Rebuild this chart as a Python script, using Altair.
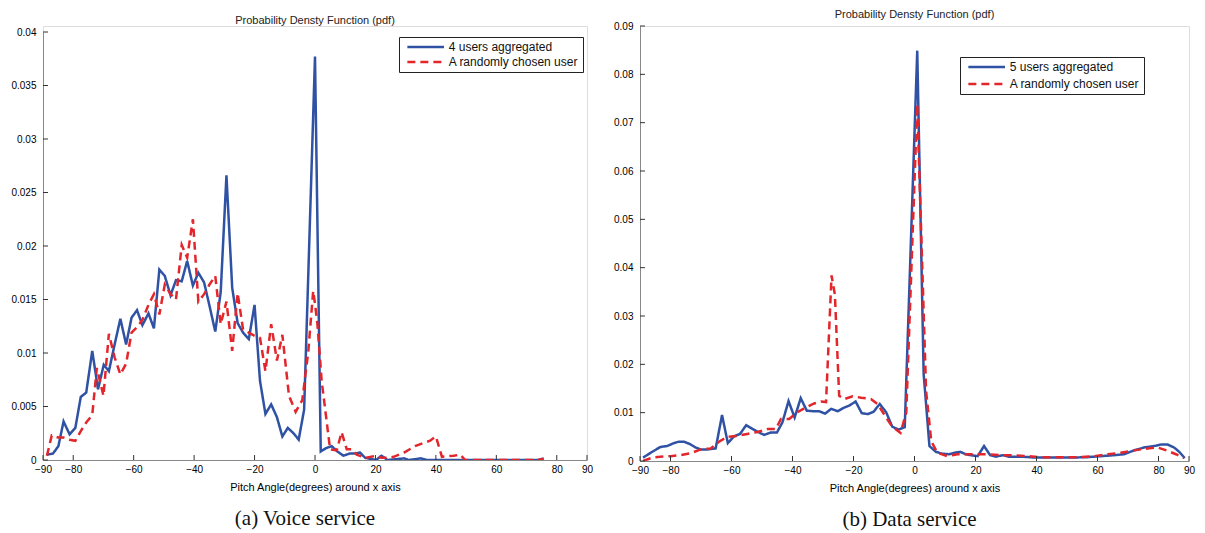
import altair as alt
import pandas as pd

BLUE = "#2f52a4"
RED = "#e3262b"
FONT = "Liberation Sans"

# ---------------- (a) Voice service ----------------
voice_blue_x = [-88.7, -86.7, -84.9, -83.2, -81.2, -79.3, -77.5, -75.7, -73.7, -71.8,
                -69.9, -68.2, -66.3, -64.4, -62.5, -60.7, -58.9, -57.1, -55.1, -53.3,
                -51.5, -49.7, -47.8, -46.0, -44.1, -42.3, -40.4, -38.6, -36.7, -34.9,
                -33.0, -31.2, -29.3, -27.4, -25.6, -23.8, -21.9, -20.0, -18.2, -16.4,
                -14.5, -12.6, -10.8, -9.0, -7.1, -5.4, -3.6, 0.0, 1.9, 3.6,
                5.5, 7.4, 9.4, 11.4, 13.3, 14.9, 16.6, 18.5, 20.2, 22.0,
                24.0, 29.5, 31.0, 35.0, 37.0, 73.8, 75.7]
voice_blue_y = [0.0005, 0.0006, 0.0013, 0.0036, 0.0024, 0.0030, 0.0059, 0.0063, 0.0102, 0.0066,
                0.0089, 0.0083, 0.0108, 0.0132, 0.0108, 0.0133, 0.0140, 0.0126, 0.0137, 0.0123,
                0.0178, 0.0172, 0.0154, 0.0168, 0.0167, 0.0186, 0.0163, 0.0175, 0.0166, 0.0144,
                0.0120, 0.0157, 0.0266, 0.0161, 0.0128, 0.0119, 0.0113, 0.0145, 0.0074, 0.0043,
                0.0052, 0.0040, 0.0022, 0.0030, 0.0025, 0.0019, 0.0047, 0.0377, 0.0008, 0.0011,
                0.0013, 0.0008, 0.0004, 0.0006, 0.0006, 0.0007, 0.0002, 0.0001, 0.0000, 0.0004,
                0.0000, 0.00015, 0.0000, 0.00015, 0.0000, 0.0000, 0.00015]

voice_red_x = [-88.7, -87.1, -85.0, -83.2, -81.2, -79.3, -77.5, -75.7, -73.7, -72.2,
               -70.0, -68.2, -66.3, -64.4, -62.5, -60.7, -58.9, -57.1, -55.1, -53.3,
               -51.5, -49.7, -47.8, -46.0, -44.1, -42.3, -40.4, -38.6, -36.7, -34.9,
               -33.0, -31.2, -29.3, -27.4, -25.6, -23.8, -21.9, -20.0, -18.2, -16.4,
               -14.5, -12.6, -10.8, -8.6, -6.4, -4.2, -2.2, -0.6, 0.0, 0.8,
               2.2, 5.0, 7.2, 8.8, 10.5, 12.2, 13.8, 16.6, 20.2, 22.0,
               24.0, 26.0, 29.5, 33.1, 36.0, 38.1, 40.0, 42.0, 45.9, 48.0,
               49.7, 73.5, 75.5]
voice_red_y = [0.0004, 0.0023, 0.0021, 0.0021, 0.0019, 0.0018, 0.0027, 0.0035, 0.0042, 0.0086,
               0.0060, 0.0118, 0.0096, 0.0080, 0.0090, 0.0119, 0.0124, 0.0131, 0.0145, 0.0155,
               0.0136, 0.0164, 0.0155, 0.0150, 0.0201, 0.0189, 0.0225, 0.0148, 0.0155, 0.0164,
               0.0172, 0.0127, 0.0148, 0.0102, 0.0156, 0.0122, 0.0119, 0.0116, 0.0114, 0.0083,
               0.0127, 0.0093, 0.0117, 0.0060, 0.0045, 0.0056, 0.0102, 0.0158, 0.0146, 0.0127,
               0.0074, 0.0010, 0.0009, 0.0026, 0.0010, 0.0010, 0.0005, 0.0002, 0.0004, 0.0002,
               0.0002, 0.0003, 0.0007, 0.0013, 0.0016, 0.0018, 0.0022, 0.0003, 0.0004, 0.0005,
               0.0000, 0.0000, 0.0001]

# ---------------- (b) Data service ----------------
data_blue_x = [-89.0, -86.0, -83.3, -81.1, -78.9, -77.3, -75.6, -73.6, -71.8, -70.1,
               -67.9, -65.2, -63.1, -61.2, -59.2, -57.2, -55.2, -53.3, -51.3, -49.3,
               -47.1, -45.1, -43.3, -41.3, -39.3, -37.3, -35.3, -33.3, -31.3, -29.3,
               -27.3, -25.2, -23.2, -21.3, -19.3, -17.3, -15.3, -13.4, -11.4, -9.3,
               -7.3, -5.2, -3.2, 0.9, 3.0, 4.9, 7.0, 9.2, 11.4, 13.0,
               15.0, 16.8, 18.5, 20.7, 22.8, 24.8, 26.7, 28.9, 31.0, 34.9,
               39.8, 45.8, 51.3, 56.7, 61.1, 65.5, 68.7, 72.0, 75.3, 78.6,
               80.8, 83.0, 85.1, 86.8, 88.6]
data_blue_y = [0.0007, 0.0019, 0.0029, 0.0031, 0.0037, 0.0040, 0.0040, 0.0035, 0.0028, 0.0024,
               0.0024, 0.0026, 0.0095, 0.0037, 0.0051, 0.0056, 0.0074, 0.0067, 0.0060, 0.0054,
               0.0059, 0.0059, 0.0080, 0.0124, 0.0090, 0.0130, 0.0104, 0.0103, 0.0103, 0.0098,
               0.0108, 0.0103, 0.0110, 0.0115, 0.0123, 0.0099, 0.0097, 0.0102, 0.0118, 0.0101,
               0.0071, 0.0065, 0.0070, 0.0849, 0.0180, 0.0031, 0.0019, 0.0015, 0.0014, 0.0017,
               0.0019, 0.0014, 0.0012, 0.0010, 0.0031, 0.0012, 0.0009, 0.0012, 0.0009, 0.0009,
               0.0007, 0.0007, 0.0007, 0.0008, 0.0010, 0.0012, 0.0014, 0.0022, 0.0028, 0.0031,
               0.0034, 0.0034, 0.0028, 0.0019, 0.0006]

data_red_x = [-89.0, -86.0, -83.3, -80.0, -76.7, -73.4, -70.1, -66.8, -64.1, -61.4,
              -58.1, -54.8, -51.5, -48.2, -45.5, -43.8, -41.1, -38.4, -35.6, -32.9,
              -30.7, -29.0, -27.2, -26.1, -24.7, -23.0, -20.3, -17.5, -14.2, -12.1,
              -9.3, -7.4, -4.6, -2.7, 0.9, 3.8, 5.5, 7.5, 10.8, 14.1,
              17.4, 20.7, 23.9, 28.3, 32.7, 37.0, 41.4, 45.8, 50.2, 54.5,
              58.9, 63.3, 67.6, 72.0, 76.4, 79.7, 83.0, 85.7, 88.4]
data_red_y = [0.0000, 0.0007, 0.0009, 0.0010, 0.0012, 0.0016, 0.0024, 0.0026, 0.0040, 0.0050,
              0.0052, 0.0056, 0.0060, 0.0066, 0.0066, 0.0087, 0.0087, 0.0101, 0.0111, 0.0119,
              0.0123, 0.0122, 0.0384, 0.0344, 0.0135, 0.0128, 0.0134, 0.0131, 0.0128, 0.0118,
              0.0090, 0.0072, 0.0058, 0.0100, 0.0738, 0.0145, 0.0041, 0.0017, 0.0010, 0.0014,
              0.0014, 0.0014, 0.0014, 0.0012, 0.0012, 0.0010, 0.0008, 0.0008, 0.0008, 0.0008,
              0.0010, 0.0014, 0.0017, 0.0022, 0.0026, 0.0028, 0.0021, 0.0014, 0.0006]

x_ticks = [-90, -80, -60, -40, -20, 0, 20, 40, 60, 80, 90]
voice_y_ticks = [0, 0.005, 0.01, 0.015, 0.02, 0.025, 0.03, 0.035, 0.04]
data_y_ticks = [0, 0.01, 0.02, 0.03, 0.04, 0.05, 0.06, 0.07, 0.08, 0.09]

RED_LABEL = "A randomly chosen user"
TITLE = "Probability Densty Function (pdf)"
X_TITLE = "Pitch Angle(degrees) around x axis"


def panel(bx, by, rx, ry, blue_label, ymax, yticks, W, H, top, legx, legy,
          row_pad, t_offset, caption, cap_dx):
    df = pd.DataFrame({
        "x": bx + rx,
        "y": by + ry,
        "series": [blue_label] * len(bx) + [RED_LABEL] * len(rx),
    })
    xscale = alt.Scale(domain=[-90, 90], nice=False, zero=False)
    yscale = alt.Scale(domain=[0, ymax], nice=False, zero=False, range=[H, top])
    xaxis = alt.Axis(values=x_ticks, format="d", title=X_TITLE, ticks=False,
                     labelPadding=4, titlePadding=7, grid=False,
                     labelOverlap=False, labelFlush=False,
                     titleFontWeight=400)
    yaxis = alt.Axis(values=yticks, format="~g", title=None, ticks=False,
                     labelPadding=7, grid=False, labelOverlap=False)
    legend = alt.Legend(
        title=None, orient="none", legendX=legx, legendY=legy,
        strokeColor="#222", fillColor="white", padding=4,
        symbolType="M-4.9,0H4.9", symbolSize=56, symbolStrokeWidth=2.5,
        symbolOffset=16.7, labelOffset=17,
        labelFont=FONT, labelFontSize=12, labelColor="#111",
        rowPadding=row_pad,
    )
    lines = alt.Chart(df).mark_line(strokeWidth=2.5, clip=True).encode(
        x=alt.X("x:Q", scale=xscale, axis=xaxis),
        y=alt.Y("y:Q", scale=yscale, axis=yaxis),
        color=alt.Color("series:N", scale=alt.Scale(
            domain=[blue_label, RED_LABEL], range=[BLUE, RED]), legend=legend),
        strokeDash=alt.StrokeDash("series:N", scale=alt.Scale(
            domain=[blue_label, RED_LABEL], range=[[1, 0], [8, 5]]), legend=legend),
    )
    xt = alt.Chart(pd.DataFrame({"x": x_ticks})).mark_rule(
        color="#333", strokeWidth=1).encode(
        x=alt.X("x:Q", scale=xscale, axis=xaxis),
        y=alt.value(H), y2=alt.value(H - 5))
    yt = alt.Chart(pd.DataFrame({"y": yticks})).mark_rule(
        color="#333", strokeWidth=1).encode(
        y=alt.Y("y:Q", scale=yscale, axis=yaxis),
        x=alt.value(0), x2=alt.value(5))
    cap = alt.Chart(pd.DataFrame({"caption": [caption]})).mark_text(
        font="Liberation Serif", fontSize=21, color="#111", baseline="middle").encode(
        x=alt.value(W / 2 + cap_dx), y=alt.value(H + 59), text="caption:N")
    return alt.layer(lines, xt, yt, cap).properties(
        width=W, height=H,
        title=alt.TitleParams(TITLE, font=FONT, fontSize=11, fontWeight="normal",
                              color="#222", offset=t_offset, anchor="middle"),
    )


left = panel(voice_blue_x, voice_blue_y, voice_red_x, voice_red_y,
             "4 users aggregated", 0.04, voice_y_ticks, 544, 434, 6, 356, 11, 3,
             0, "(a) Voice service", -10)
right = panel(data_blue_x, data_blue_y, data_red_x, data_red_y,
              "5 users aggregated", 0.09, data_y_ticks, 549, 435, 0, 320, 31, 5,
              1, "(b) Data service", -5)

chart = alt.hconcat(left, right, spacing=19).resolve_scale(
    color="independent", strokeDash="independent"
).properties(padding={"left": 2, "top": 0, "right": 0, "bottom": 0}).configure_view(
    strokeWidth=0
).configure_axis(
    labelFont=FONT, labelFontSize=11, labelColor="#222",
    titleFont=FONT, titleFontSize=11, titleFontWeight="normal", titleColor="#222",
    domainColor="#333", domainWidth=1,
).configure(background="white")

chart.save("out.html", embed_options={"renderer": "svg", "actions": False})
